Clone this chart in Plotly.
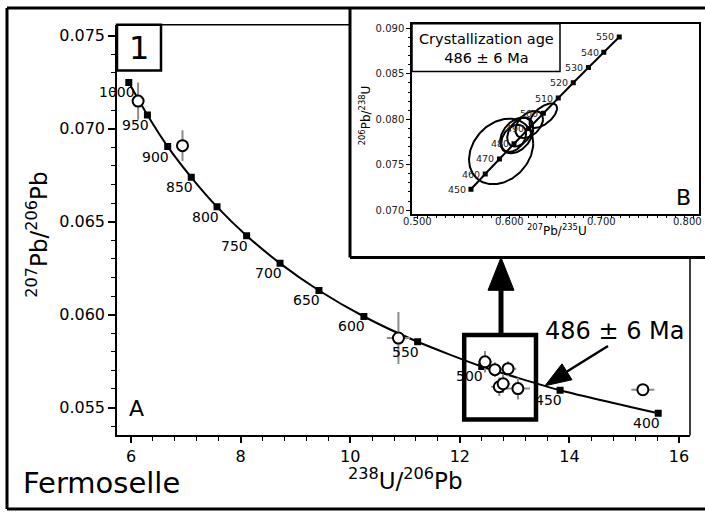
import numpy as np
import plotly.graph_objects as go

W, H = 705, 513
FONT = "DejaVu Sans"

# Tera-Wasserburg concordia ticks (age in Ma)
conc_age = [400, 450, 500, 550, 600, 650, 700, 750, 800, 850, 900, 950, 1000]
conc_u238_pb206 = [15.62, 13.83, 12.40, 11.23, 10.25, 9.43, 8.72, 8.11, 7.57, 7.10, 6.67, 6.30, 5.96]
conc_pb207_pb206 = [0.05469, 0.05593, 0.05721, 0.05854, 0.05990, 0.06130, 0.06276,
                    0.06425, 0.06580, 0.06739, 0.06904, 0.07074, 0.07249]

# Zircon spot analyses (238U/206Pb, 207Pb/206Pb) with error half-widths
spot_u238_pb206 = [6.13, 6.94, 10.88, 12.46, 12.64, 12.88, 12.72, 12.79, 13.06, 15.34]
spot_pb207_pb206 = [0.07149, 0.06909, 0.05874, 0.05746, 0.05704, 0.05709, 0.05612, 0.05628, 0.05602, 0.05596]
spot_err_x = [0.05, 0.05, 0.21, 0.13, 0.12, 0.15, 0.15, 0.13, 0.22, 0.21]
spot_err_y = [0.0010, 0.00083, 0.0014, 0.00058, 0.0004, 0.0004, 0.0005, 0.0005, 0.00058, 0.0003]

# Wetherill concordia ticks for the inset (age in Ma)
ins_age = [450, 460, 470, 480, 490, 500, 510, 520, 530, 540, 550]
ins_pb207_u235 = [0.5576, 0.5731, 0.5886, 0.6044, 0.6202, 0.6363, 0.6525, 0.6688, 0.6853, 0.7020, 0.7188]
ins_pb206_u238 = [0.07230, 0.07397, 0.07563, 0.07730, 0.07897, 0.08065, 0.08233,
                  0.08401, 0.08569, 0.08737, 0.08906]
ins_xticks = [0.5, 0.6, 0.7, 0.8]

# Error ellipses of the concordant cluster: centre, half-extents, correlation
ell_x = [0.5904, 0.6362, 0.6209, 0.6073, 0.6110, 0.6040]
ell_y = [0.07646, 0.08040, 0.07942, 0.07822, 0.07860, 0.07790]
ell_sx = [0.0349, 0.0150, 0.0150, 0.0180, 0.0140, 0.0135]
ell_sy = [0.00361, 0.00135, 0.00150, 0.00197, 0.00160, 0.00150]
ell_rho = [0.25, 0.6, 0.4, 0.35, 0.4, 0.35]


def px(x):
    return x / W


def py(y):
    return 1 - y / H


fig = go.Figure()

# main concordia
fig.add_trace(go.Scatter(
    x=conc_u238_pb206, y=conc_pb207_pb206, mode="lines+markers",
    line=dict(color="black", width=2, shape="spline", smoothing=0.6),
    marker=dict(symbol="square", size=7, color="black"),
    xaxis="x", yaxis="y", hoverinfo="skip", showlegend=False))

# spot analyses
fig.add_trace(go.Scatter(
    x=spot_u238_pb206, y=spot_pb207_pb206, mode="markers",
    error_x=dict(type="data", array=spot_err_x, color="#8c8c8c", thickness=2, width=0),
    error_y=dict(type="data", array=spot_err_y, color="#8c8c8c", thickness=2, width=0),
    marker=dict(symbol="circle", size=11, color="white", line=dict(color="black", width=2)),
    xaxis="x", yaxis="y", hoverinfo="skip", showlegend=False))

# inset concordia
fig.add_trace(go.Scatter(
    x=ins_pb207_u235, y=ins_pb206_u238, mode="lines+markers",
    line=dict(color="black", width=2, shape="spline", smoothing=0.6),
    marker=dict(symbol="square", size=5, color="black"),
    xaxis="x2", yaxis="y2", hoverinfo="skip", showlegend=False))

# inset error ellipses
t = np.linspace(0, 2 * np.pi, 160)
for cx, cy, sx, sy, r in zip(ell_x, ell_y, ell_sx, ell_sy, ell_rho):
    ex = cx + sx * np.cos(t)
    ey = cy + sy * (r * np.cos(t) + np.sqrt(1 - r * r) * np.sin(t))
    fig.add_trace(go.Scatter(
        x=ex, y=ey, mode="lines", line=dict(color="black", width=2),
        xaxis="x2", yaxis="y2", hoverinfo="skip", showlegend=False))

annotations = []
for a, x, y in zip(conc_age, conc_u238_pb206, conc_pb207_pb206):
    annotations.append(dict(x=x, y=y, xref="x", yref="y", text=str(a), showarrow=False,
                            xshift=-12, yshift=-10, font=dict(family=FONT, size=14, color="black")))
for a, x, y in zip(ins_age, ins_pb207_u235, ins_pb206_u238):
    annotations.append(dict(x=x, y=y, xref="x2", yref="y2", text=str(a), showarrow=False,
                            xshift=-14, yshift=0, font=dict(family=FONT, size=9.5, color="#222")))
# inset x tick labels sit tight under the axis; the last one is kept inside the page edge
for v in ins_xticks:
    last = v == ins_xticks[-1]
    annotations.append(dict(x=px(704) if last else v, y=py(222),
                            xref="paper" if last else "x2", yref="paper",
                            text=f"{v:.3f}", showarrow=False,
                            xanchor="right" if last else "center", yanchor="middle",
                            font=dict(family=FONT, size=10, color="#222")))


def label(text, x, y, size, xanchor="center", angle=0):
    annotations.append(dict(x=px(x), y=py(y), xref="paper", yref="paper", text=text,
                            showarrow=False, xanchor=xanchor, yanchor="middle", textangle=angle,
                            font=dict(family=FONT, size=size, color="black")))


label("1", 139, 47, 32)
label("A", 136, 410, 22)
label("B", 683, 198, 22)
label("Fermoselle", 21, 485, 29, xanchor="left")
label("486 ± 6 Ma", 615, 332, 24)
label("<sup>238</sup>U/<sup>206</sup>Pb", 405, 481, 23)
label("<sup>207</sup>Pb/<sup>206</sup>Pb", 37, 235, 23, angle=-90)
label("<sup>207</sup>Pb/<sup>235</sup>U", 557, 230, 12)
label("<sup>206</sup>Pb/<sup>238</sup>U", 365, 115, 12, angle=-90)
label("Crystallization age<br>486 ± 6 Ma", 486, 48, 14.5)

shapes = []


def pline(x0, y0, x1, y1, w):
    shapes.append(dict(type="line", xref="paper", yref="paper", x0=px(x0), y0=py(y0),
                       x1=px(x1), y1=py(y1), line=dict(color="black", width=w)))


def prect(x0, y0, x1, y1, w):
    shapes.append(dict(type="rect", xref="paper", yref="paper", x0=px(x0), y0=py(y0),
                       x1=px(x1), y1=py(y1), line=dict(color="black", width=w)))


def ppoly(pts):
    d = "M " + " L ".join(f"{px(a):.5f},{py(b):.5f}" for a, b in pts) + " Z"
    shapes.append(dict(type="path", xref="paper", yref="paper", path=d,
                       fillcolor="black", line=dict(color="black", width=1)))


# outer frame and inset frame
pline(7, 7, 705, 7, 3)
pline(7, 7, 7, 511, 3)
pline(7, 511, 705, 511, 3)
pline(350, 7, 350, 258, 3)
pline(350, 258, 705, 258, 3)
# remaining sides of the main plot box
pline(117, 24, 350, 24, 1.5)
pline(690, 258, 690, 437, 1.5)
# panel number box
prect(117, 24, 161, 70, 2.5)
# inset age box
prect(412, 23, 560, 71, 1.5)
# box around the concordant cluster (data coordinates)
shapes.append(dict(type="rect", xref="x", yref="y", x0=12.08, x1=13.39, y0=0.05436, y1=0.0589,
                   line=dict(color="black", width=4.5)))
# thick arrow to the inset
pline(501, 336, 501, 288, 5)
ppoly([(501, 258), (488, 291), (514, 291)])
# arrow pointing at the concordia intercept
pline(608, 347, 565, 374, 2.5)
ppoly([(545, 387), (572, 381), (562, 365)])

axis_common = dict(showgrid=False, zeroline=False, showline=True, linecolor="black",
                   ticks="outside", tickcolor="black")

fig.update_layout(
    width=W, height=H, margin=dict(l=0, r=0, t=0, b=0),
    paper_bgcolor="white", plot_bgcolor="white",
    xaxis=dict(domain=[px(117), px(690)], range=[5.745, 16.2], anchor="y",
               tickvals=[6, 8, 10, 12, 14, 16], ticklen=6, tickwidth=1.5, linewidth=1.5,
               tickfont=dict(family=FONT, size=16, color="black"),
               minor=dict(tick0=6, dtick=0.4, ticks="outside", ticklen=4, tickwidth=1.2,
                          tickcolor="black", showgrid=False),
               **axis_common),
    yaxis=dict(domain=[py(437), py(24)], range=[0.0535, 0.07559], anchor="x",
               tickvals=[0.055, 0.060, 0.065, 0.070, 0.075], tickformat=".3f",
               ticklen=7, tickwidth=1.5, linewidth=1.5,
               tickfont=dict(family=FONT, size=16, color="black"),
               minor=dict(tick0=0.055, dtick=0.001, ticks="outside", ticklen=4, tickwidth=1.2,
                          tickcolor="black", showgrid=False),
               **axis_common),
    xaxis2=dict(domain=[px(412), px(699)], range=[0.4935, 0.8055], anchor="y2",
                tickvals=ins_xticks, showticklabels=False, mirror=True,
                ticklen=4, tickwidth=1.2, linewidth=1.5,
                minor=dict(tick0=0.5, dtick=0.01, ticks="outside", ticklen=2.5, tickwidth=1,
                           tickcolor="black", showgrid=False),
                **axis_common),
    yaxis2=dict(domain=[py(214), py(23)], range=[0.0696, 0.0905], anchor="x2",
                tickvals=[0.070, 0.075, 0.080, 0.085, 0.090], tickformat=".3f", mirror=True,
                ticklen=4, tickwidth=1.2, linewidth=1.5,
                tickfont=dict(family=FONT, size=10, color="#222"),
                minor=dict(tick0=0.07, dtick=0.001, ticks="outside", ticklen=2.5, tickwidth=1,
                           tickcolor="black", showgrid=False),
                **axis_common),
    annotations=annotations,
    shapes=shapes,
)

fig.write_html("out.html")
